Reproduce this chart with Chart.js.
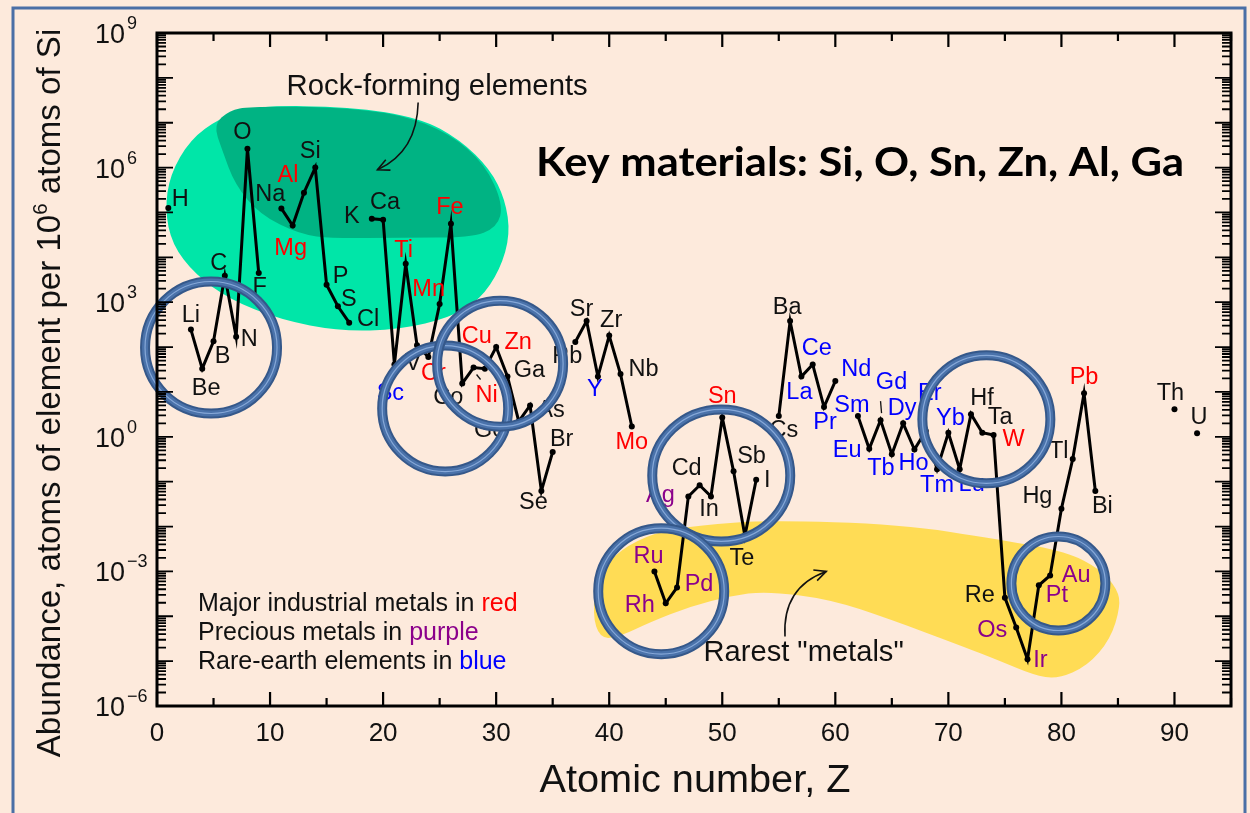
<!DOCTYPE html>
<html><head><meta charset="utf-8">
<script src="https://cdn.jsdelivr.net/npm/chart.js@4/dist/chart.umd.min.js"></script>
<style>html,body{margin:0;padding:0;background:#fdeadc;}canvas{display:block}</style>
</head><body>
<canvas id="c" width="1250" height="813"></canvas>
<script>
// ---------------- DATA ----------------
const atomicNumbers = [1,3,4,5,6,7,8,9,11,12,13,14,15,16,17,19,20,21,22,23,24,25,26,27,28,29,30,31,32,33,34,35,37,38,39,40,41,42,44,45,46,47,48,49,50,51,52,53,55,56,57,58,59,60,62,63,64,65,66,67,68,69,70,71,72,73,74,75,76,77,78,79,80,81,82,83,90,92];
const symbols = ['H','Li','Be','B','C','N','O','F','Na','Mg','Al','Si','P','S','Cl','K','Ca','Sc','Ti','V','Cr','Mn','Fe','Co','Ni','Cu','Zn','Ga','Ge','As','Se','Br','Rb','Sr','Y','Zr','Nb','Mo','Ru','Rh','Pd','Ag','Cd','In','Sn','Sb','Te','I','Cs','Ba','La','Ce','Pr','Nd','Sm','Eu','Gd','Tb','Dy','Ho','Er','Tm','Yb','Lu','Hf','Ta','W','Re','Os','Ir','Pt','Au','Hg','Tl','Pb','Bi','Th','U'];
// atoms of element per 10^6 atoms of Si
const abundance = [1.26e5,2.45e2,3.3e1,1.35e2,3.9e3,1.7e2,2.63e6,4.47e3,
  1.23e5,5.1e4,2.75e5,1.0e6,2.45e3,8.1e2,3.5e2,
  7.2e4,6.9e4,4.1e1,7.2e3,1.1e2,6.0e1,9.1e2,5.6e4,1.55e1,3.5e1,3.3e1,1.0e2,2.2e1,2.2,5.0,6.2e-2,4.6e-1,
  1.3e2,3.8e2,2.2e1,1.8e2,2.5e1,1.7,
  1.0e-3,1.95e-4,4.4e-4,4.7e-2,8.3e-2,4.7e-2,2.7,1.7e-1,6.2e-3,1.1e-1,
  2.9,3.8e2,2.2e1,4.1e1,4.6,1.75e1,
  2.9,5.4e-1,2.35,4.1e-1,2.0,5.2e-1,1.35,1.9e-1,1.23,1.9e-1,3.2,1.23,1.1,2.6e-4,5.6e-5,1.1e-5,4.9e-4,8.1e-4,2.5e-2,3.2e-1,9.3,6.2e-2,
  4.1,1.2];
const industrialMetals = ['Mg','Al','Ti','Cr','Mn','Fe','Ni','Cu','Zn','Mo','Sn','W','Pb'];
const preciousMetals = ['Ru','Rh','Pd','Ag','Os','Ir','Pt','Au'];
const rareEarthElements = ['Sc','Y','La','Ce','Pr','Nd','Sm','Eu','Gd','Tb','Dy','Ho','Er','Tm','Yb','Lu'];
const xTickLabels = [0,10,20,30,40,50,60,70,80,90];
const yTickExponents = [9,6,3,0,-3,-6];

// ---------------- LAYOUT / STYLE (not data) ----------------
const COLORS = {industrial:'#ff0000', precious:'#8b008b', rare:'#0000ff', other:'#111111'};
const labelOffsets = {H:[12,-9],Li:[0,-15],Be:[4,19],B:[9,14],C:[-6,-13],N:[13,2],O:[-5,-17],F:[1,13],
 Na:[-11,-15],Mg:[-2,22],Al:[-16,-18],Si:[-5,-17],P:[14,-9],S:[11,-8],Cl:[19,-4],
 K:[-20,-3],Ca:[2,-18],Sc:[-4,28],Ti:[-2,-14],V:[-4,17],Cr:[5,15],Mn:[-11,-16],Fe:[-1,-17],Co:[-14,13],Ni:[13,27],
 Cu:[-8,-33],Zn:[22,-6],Ga:[22,-7],Ge:[-29,8],As:[21,4],Se:[-8,11],Br:[9,-13],
 Rb:[-8,14],Sr:[-5,-13],Y:[-3,12],Zr:[2,-16],Nb:[23,-6],Mo:[0,15],
 Ru:[-6,-16],Rh:[-26,1],Pd:[22,-4],Ag:[-28,-2],Cd:[-13,-18],In:[-2,12],Sn:[0,-22],Sb:[18,-16],Te:[-3,22],I:[11,0],
 Cs:[5,13],Ba:[-3,-15],La:[-2,15],Ce:[4,-17],Pr:[1,14],Nd:[21,-13],
 Sm:[-6,-12],Eu:[-22,1],Gd:[11,-39],Tb:[-11,13],Dy:[-1,-16],Ho:[-1,13],Er:[4,-38],Tm:[0,15],Yb:[2,-15],Lu:[12,14],
 Hf:[11,-17],Ta:[18,-16],W:[20,4],Re:[-25,-3],Os:[-24,2],Ir:[13,0],Pt:[18,9],Au:[26,-1],Hg:[-24,-13],Tl:[-14,-8],
 Pb:[0,-17],Bi:[7,15],Th:[-4,-17],U:[2,-17]};
const leaders = {Gd:[0,-19,1,-7], Ni:[3,7,7,12]};
// annotation shapes in data coordinates [Z, log10(abundance)]
const lightGreenBlob = [[8.70,7.38],[5.58,7.11],[2.92,6.62],[1.15,5.84],[0.71,5.06],[1.33,4.29],[3.36,3.62],[6.46,3.06],[10.88,2.61],[16.19,2.35],[21.5,2.39],[25.93,2.66],[28.58,3.06],[30.35,3.73],[31.24,4.51],[30.8,5.29],[29.47,5.96],[26.81,6.62],[23.27,7.11],[17.08,7.36]];
const darkGreenBlob = [[8.23,7.36],[15.31,7.35],[21.5,7.2],[25.93,6.75],[29.03,6.07],[30.62,5.18],[30.09,4.66],[27.7,4.44],[21.5,4.44],[15.58,4.42],[12.65,4.51],[9.12,4.95],[6.9,5.62],[5.75,6.40],[5.0,6.95],[6.4,7.28]];
const yellowBlob = [[38.5,-3.95],[39.03,-3.06],[40.97,-2.51],[44.07,-2.13],[48.05,-1.97],[53.98,-1.86],[65.75,-1.95],[74.6,-2.29],[80.53,-2.57],[83.45,-2.95],[84.96,-3.40],[85.22,-3.78],[84.34,-4.51],[82.3,-5.11],[79.65,-5.40],[77.52,-5.31],[74.6,-5.0],[71.06,-4.65],[64.87,-4.07],[59.56,-3.62],[53.89,-3.44],[50.71,-3.55],[47.17,-3.78],[43.63,-4.13],[40.97,-4.45],[39.2,-4.51]];
const highlightCircles = [[4.78,1.99,66,66],[25.49,0.63,63,63],[30.35,1.63,63,63],[49.91,-0.86,69,66],[44.6,-3.44,63,63],[73.36,0.39,64,64],[79.73,-3.27,47,47]];

// ---------------- BUILD DATASET ----------------
const points = [];
for (let z = 1; z <= 92; z++) {
  const i = atomicNumbers.indexOf(z);
  points.push({x: z, y: i >= 0 ? abundance[i] : null});
}
function colorFor(sym){
  if (industrialMetals.includes(sym)) return COLORS.industrial;
  if (preciousMetals.includes(sym)) return COLORS.precious;
  if (rareEarthElements.includes(sym)) return COLORS.rare;
  return COLORS.other;
}

const SANS = '"Liberation Sans", Arial, sans-serif';
function toPx(chart, z, e){ return [chart.scales.x.getPixelForValue(z), chart.scales.y.getPixelForValue(Math.pow(10,e))]; }
function smoothClosed(ctx, pts){
  const n = pts.length, mid=(a,b)=>[(a[0]+b[0])/2,(a[1]+b[1])/2];
  const m0 = mid(pts[n-1], pts[0]);
  ctx.beginPath(); ctx.moveTo(m0[0], m0[1]);
  for (let i=0;i<n;i++){ const p=pts[i], m=mid(p, pts[(i+1)%n]); ctx.quadraticCurveTo(p[0],p[1],m[0],m[1]); }
  ctx.closePath();
}
function fitSize(ctx, text, weight, family, w){ ctx.font = weight+' 100px '+family; return 100*w/ctx.measureText(text).width; }
function arrowCurve(ctx, a, c, b){
  ctx.beginPath(); ctx.moveTo(a[0],a[1]); ctx.quadraticCurveTo(c[0],c[1],b[0],b[1]); ctx.stroke();
  const ang = Math.atan2(b[1]-c[1], b[0]-c[0]), L=13;
  ctx.beginPath();
  ctx.moveTo(b[0]-L*Math.cos(ang-0.45), b[1]-L*Math.sin(ang-0.45));
  ctx.lineTo(b[0],b[1]);
  ctx.lineTo(b[0]-L*Math.cos(ang+0.45), b[1]-L*Math.sin(ang+0.45));
  ctx.stroke();
}

const backgroundPlugin = {
  id:'bg',
  beforeDraw(chart){
    const ctx = chart.ctx; ctx.save();
    ctx.fillStyle = '#fdeadc'; ctx.fillRect(0,0,chart.width,chart.height);
    ctx.strokeStyle = '#4a6fa6'; ctx.lineWidth = 3; ctx.strokeRect(13,8,1232,830);
    const map = arr => arr.map(p => toPx(chart, p[0], p[1]));
    smoothClosed(ctx, map(lightGreenBlob)); ctx.fillStyle = '#00e6a8'; ctx.fill();
    smoothClosed(ctx, map(darkGreenBlob)); ctx.fillStyle = '#00b383'; ctx.fill();
    smoothClosed(ctx, map(yellowBlob)); ctx.fillStyle = '#ffdc55'; ctx.fill();
    ctx.restore();
  }
};

const overlayPlugin = {
  id:'overlay',
  afterDatasetsDraw(chart){
    const ctx = chart.ctx, xs = chart.scales.x, ys = chart.scales.y, ca = chart.chartArea;
    ctx.save();
    // element labels
    ctx.font = '23.5px '+SANS; ctx.textAlign='center'; ctx.textBaseline='middle';
    symbols.forEach((s,i)=>{
      const x = xs.getPixelForValue(atomicNumbers[i]), y = ys.getPixelForValue(abundance[i]);
      const o = labelOffsets[s] || [0,-15];
      ctx.fillStyle = colorFor(s);
      ctx.fillText(s, x+o[0], y+o[1]+1);
      if (leaders[s]) { const l=leaders[s]; ctx.strokeStyle='#111'; ctx.lineWidth=1.3; ctx.beginPath(); ctx.moveTo(x+l[0],y+l[1]); ctx.lineTo(x+l[2],y+l[3]); ctx.stroke(); }
    });
    // annotations
    ctx.fillStyle='#111'; ctx.strokeStyle='#111'; ctx.lineWidth=1.6;
    let sz = fitSize(ctx,'Rock-forming elements','',SANS,301);
    ctx.font = sz.toFixed(1)+'px '+SANS;
    let p = toPx(chart, 24.78, 7.80); ctx.fillText('Rock-forming elements', p[0], p[1]);
    arrowCurve(ctx, toPx(chart,23.1,7.45), toPx(chart,23.0,6.35), toPx(chart,19.5,5.95));
    sz = fitSize(ctx,'Rarest "metals"','',SANS,200);
    ctx.font = sz.toFixed(1)+'px '+SANS;
    p = toPx(chart, 57.2, -4.82); ctx.fillText('Rarest "metals"', p[0], p[1]);
    arrowCurve(ctx, toPx(chart,55.55,-4.45), toPx(chart,55.3,-3.35), toPx(chart,59.2,-3.0));
    // highlight circles
    highlightCircles.forEach(c=>{
      const q = toPx(chart, c[0], c[1]);
      const draw=(w,col)=>{ctx.beginPath(); ctx.ellipse(q[0],q[1],c[2],c[3],0,0,Math.PI*2); ctx.lineWidth=w; ctx.strokeStyle=col; ctx.stroke();};
      draw(10,'#35588a'); draw(6,'#4a72aa'); draw(1.2,'#86a8d8');
    });
    // key materials text
    ctx.save();
    ctx.font = '700 41px Lato, "Open Sans", sans-serif';
    const kt = 'Key materials: Si, O, Sn, Zn, Al, Ga';
    const kw = ctx.measureText(kt).width;
    ctx.translate(536, 176); ctx.scale(648/kw, 1);
    ctx.textAlign='left'; ctx.textBaseline='alphabetic'; ctx.fillStyle='#000';
    ctx.fillText(kt, 0, 0);
    ctx.restore();
    // axes frame
    ctx.strokeStyle='#000'; ctx.lineWidth=3;
    ctx.strokeRect(ca.left, ca.top, ca.right-ca.left, ca.bottom-ca.top);
    ctx.lineWidth=2.2;
    for (let v=0; v<=95; v+=5){
      const x = xs.getPixelForValue(v), L = v%10===0 ? 14 : 8;
      ctx.beginPath(); ctx.moveTo(x,ca.bottom); ctx.lineTo(x,ca.bottom-L); ctx.moveTo(x,ca.top); ctx.lineTo(x,ca.top+L); ctx.stroke();
    }
    ctx.lineWidth=1.8;
    for (let e=-6; e<=9; e++){
      for (let k=1;k<=9;k++){
        if (e===9 && k>1) break;
        const y = ys.getPixelForValue(k*Math.pow(10,e)), L = k===1 ? 16 : 9;
        ctx.beginPath(); ctx.moveTo(ca.left,y); ctx.lineTo(ca.left+L,y); ctx.moveTo(ca.right,y); ctx.lineTo(ca.right-L,y); ctx.stroke();
      }
    }
    // tick labels
    ctx.fillStyle='#111'; ctx.textAlign='center'; ctx.textBaseline='alphabetic';
    ctx.font = '26px '+SANS;
    xTickLabels.forEach(v=>{ ctx.fillText(String(v), xs.getPixelForValue(v), 741); });
    ctx.textAlign='left';
    yTickExponents.forEach(e=>{
      const y = ys.getPixelForValue(Math.pow(10,e));
      ctx.font = '27px '+SANS; ctx.fillText('10', 95, y+10);
      const w = ctx.measureText('10').width;
      ctx.font = '18px '+SANS; ctx.fillText(e<0 ? '\u2212'+(-e) : String(e), 95+w+2, y-4);
    });
    // x title
    sz = fitSize(ctx,'Atomic number, Z','',SANS,311);
    ctx.font = sz.toFixed(1)+'px '+SANS; ctx.textAlign='center';
    ctx.fillText('Atomic number, Z', 695, 792);
    // y title (rotated)
    const parts = [['Abundance, atoms of element per 10',1],['6',0.62],[' atoms of Si',1]];
    let tw = 0; parts.forEach(pt=>{ ctx.font=(100*pt[1])+'px '+SANS; tw += ctx.measureText(pt[0]).width; });
    const ys0 = 100*729/tw;
    ctx.save(); ctx.translate(49, 393); ctx.rotate(-Math.PI/2);
    let total=0;
    parts.forEach(pt=>{ ctx.font=(ys0*pt[1]).toFixed(1)+'px '+SANS; total += ctx.measureText(pt[0]).width; });
    let cx = -total/2; ctx.textAlign='left';
    parts.forEach(pt=>{
      ctx.font=(ys0*pt[1]).toFixed(1)+'px '+SANS;
      ctx.fillText(pt[0], cx, pt[1]<1 ? -2 : 11);
      cx += ctx.measureText(pt[0]).width;
    });
    ctx.restore();
    // colour legend
    const legendRows = [['Major industrial metals in ','red',COLORS.industrial],['Precious metals in ','purple',COLORS.precious],['Rare-earth elements in ','blue',COLORS.rare]];
    sz = fitSize(ctx,'Major industrial metals in red','',SANS,320);
    ctx.font = sz.toFixed(1)+'px '+SANS; ctx.textAlign='left';
    legendRows.forEach((r,i)=>{
      const y = 611 + i*29;
      ctx.fillStyle='#111'; ctx.fillText(r[0], 198, y);
      const w = ctx.measureText(r[0]).width;
      ctx.fillStyle=r[2]; ctx.fillText(r[1], 198+w, y);
    });
    ctx.restore();
  }
};

const chart = new Chart(document.getElementById('c'), {
  type:'scatter',
  data:{datasets:[{data:points, showLine:true, spanGaps:false, tension:0,
    borderColor:'#000', borderWidth:3, pointRadius:3, pointBackgroundColor:'#000', pointBorderWidth:0}]},
  options:{responsive:false, animation:false, events:[],
    layout:{padding:{left:157, top:33, right:19, bottom:107}},
    plugins:{legend:{display:false}, tooltip:{enabled:false}},
    scales:{x:{type:'linear', min:0, max:95, display:false},
            y:{type:'logarithmic', min:1e-6, max:1e9, display:false}}},
  plugins:[backgroundPlugin, overlayPlugin]
});
</script>
</body></html>
